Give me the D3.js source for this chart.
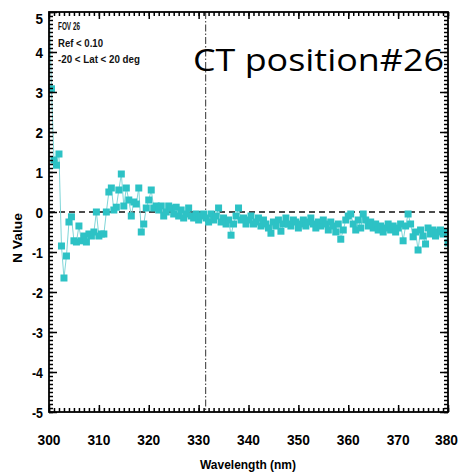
<!DOCTYPE html>
<html><head><meta charset="utf-8">
<script src="https://cdn.jsdelivr.net/npm/d3@7"></script>
<style>body{margin:0;background:#fff}svg{display:block}</style>
</head><body>
<svg id="c" width="460" height="473"></svg>
<script>
// Data: N value sampled every 0.5 nm from 300 to 380 nm
const startWavelength = 300, stepWavelength = 0.5;
const nValues = [
 5.3, 3.08, 1.3, 1.17, 1.45, -0.85, -1.65, -1.1, -0.25, -0.12,
 -0.72, -0.75, -0.35, -0.72, -0.6, -0.75, -0.55, -0.6, -0.5, 0.0,
 -0.6, -0.55, -0.55, 0.0, 0.5, 0.6, 0.05, 0.12, 0.55, 0.95,
 0.15, 0.6, 0.3, -0.1, 0.25, 0.2, 0.6, -0.5, -0.3, 0.1,
 0.3, 0.55, 0.1, 0.15, 0.05, 0.15, -0.1, 0.0, 0.15, 0.1,
 -0.05, 0.12, -0.1, 0.05, -0.15, -0.05, 0.1, -0.1, -0.15, -0.05,
 -0.2, -0.1, -0.05, -0.15, -0.25, -0.05, -0.2, -0.1, 0.1, -0.25,
 -0.15, -0.3, -0.2, -0.58, -0.3, -0.1, 0.1, -0.2, -0.15, -0.3,
 -0.2, -0.1, -0.3, -0.25, -0.15, -0.35, -0.2, -0.3, -0.4, -0.53,
 -0.25, -0.35, -0.2, -0.48, -0.3, -0.15, -0.3, -0.35, -0.2, -0.25,
 -0.4, -0.3, -0.2, -0.35, -0.25, -0.15, -0.3, -0.4, -0.25, -0.35,
 -0.2, -0.3, -0.45, -0.25, -0.35, -0.5, -0.3, -0.68, -0.45, -0.2,
 -0.1, -0.05, -0.3, -0.45, -0.2, -0.4, -0.05, -0.2, -0.35, -0.25,
 -0.4, -0.3, -0.45, -0.35, -0.5, -0.4, -0.3, -0.45, -0.35, -0.5,
 -0.4, -0.3, -0.72, -0.35, -0.05, -0.3, -0.62, -0.5, -0.95, -0.45,
 -0.6, -0.8, -0.4, -0.55, -0.45, -0.6, -0.5, -0.45, -0.55, -0.5,
 -0.77
];
const xTicks = [300, 310, 320, 330, 340, 350, 360, 370, 380];
const yTicks = [-5, -4, -3, -2, -1, 0, 1, 2, 3, 4, 5];
const refWavelength = 331.4;
const notes = ["FOV 26", "Ref < 0.10", "-20 < Lat < 20 deg"];
const noteWidths = [22, 45, 82];
const title = "CT position#26";

const data = nValues.map((v, i) => ({w: startWavelength + i * stepWavelength, v}));

const svg = d3.select("#c");
const W = 460;
const L = 49, R = 448, T = 12, B = 412;
const x = d3.scaleLinear().domain([300, 380]).range([L, R]);
const y = d3.scaleLinear().domain([-5, 5]).range([B, T]);

svg.append("defs").append("clipPath").attr("id", "clip")
  .append("rect").attr("x", L).attr("y", T).attr("width", R - L).attr("height", B - T);

const font = "'Liberation Sans', Arial, sans-serif";

// reference lines
svg.append("line").attr("x1", L).attr("x2", R).attr("y1", y(0)).attr("y2", y(0))
  .attr("stroke", "#111").attr("stroke-width", 1.4).attr("stroke-dasharray", "6,4");
svg.append("line").attr("x1", x(refWavelength)).attr("x2", x(refWavelength)).attr("y1", T).attr("y2", B)
  .attr("stroke", "#555").attr("stroke-width", 1.2).attr("stroke-dasharray", "7,2,1.5,2");

// data
const g = svg.append("g").attr("clip-path", "url(#clip)");
g.append("path").datum(data)
  .attr("d", d3.line().x(d => x(d.w)).y(d => y(d.v)))
  .attr("fill", "none").attr("stroke", "#7fd6d8").attr("stroke-width", 1);
g.selectAll("rect.m").data(data).join("rect").attr("class", "m")
  .attr("x", d => x(d.w) - 3.5).attr("y", d => y(d.v) - 3.5)
  .attr("width", 7).attr("height", 7).attr("fill", "#2dc2c5");

// axes with inward ticks
const minorX = d3.range(300, 381, 1);
const minorY = d3.range(-50, 51, 1).map(d => d / 10);
function axisTicks(axisFn, scale, ticks, size, pos) {
  return svg.append("g").attr("transform", pos)
    .call(axisFn(scale).tickValues(ticks).tickSize(size).tickFormat(""))
    .call(s => s.select(".domain").remove())
    .call(s => s.selectAll("line").attr("stroke", "#000").attr("stroke-width", 1.5));
}
axisTicks(d3.axisTop, x, minorX, 4, `translate(0,${B})`);
axisTicks(d3.axisTop, x, xTicks, 7, `translate(0,${B})`);
axisTicks(d3.axisBottom, x, minorX, 4, `translate(0,${T})`);
axisTicks(d3.axisBottom, x, xTicks, 7, `translate(0,${T})`);
axisTicks(d3.axisRight, y, minorY, 4, `translate(${L},0)`);
axisTicks(d3.axisRight, y, yTicks, 8, `translate(${L},0)`);
axisTicks(d3.axisLeft, y, minorY, 4, `translate(${R},0)`);
axisTicks(d3.axisLeft, y, yTicks, 8, `translate(${R},0)`);

// frame
svg.append("rect").attr("x", L).attr("y", T).attr("width", R - L).attr("height", B - T)
  .attr("fill", "none").attr("stroke", "#000").attr("stroke-width", 1.8);

// tick labels
const xLabW = 23;
svg.append("g").selectAll("text").data(xTicks).join("text")
  .attr("x", d => Math.min(x(d), W - 2 - xLabW / 2)).attr("y", 445).attr("text-anchor", "middle")
  .attr("font-family", font).attr("font-weight", "bold").attr("font-size", 15.5)
  .attr("textLength", xLabW).attr("lengthAdjust", "spacingAndGlyphs")
  .text(d => d);
svg.append("g").selectAll("text").data(yTicks).join("text")
  .attr("x", 43).attr("y", d => d === 5 ? y(d) + 12 : y(d) + 5.5).attr("text-anchor", "end")
  .attr("font-family", font).attr("font-weight", "bold").attr("font-size", 15.5)
  .attr("textLength", d => d < 0 ? 11 : 7.5).attr("lengthAdjust", "spacingAndGlyphs")
  .text(d => d);

// axis titles
svg.append("text").attr("x", 248).attr("y", 469).attr("text-anchor", "middle")
  .attr("font-family", font).attr("font-weight", "bold").attr("font-size", 13.5)
  .attr("textLength", 96).attr("lengthAdjust", "spacingAndGlyphs")
  .text("Wavelength (nm)");
svg.append("text").attr("transform", "translate(22,238) rotate(-90)").attr("text-anchor", "middle")
  .attr("font-family", font).attr("font-weight", "bold").attr("font-size", 13)
  .attr("textLength", 50).attr("lengthAdjust", "spacingAndGlyphs")
  .text("N Value");

// notes
svg.append("g").selectAll("text").data(notes).join("text")
  .attr("x", 58).attr("y", (d, i) => 30 + i * 16.5)
  .attr("font-family", font).attr("font-weight", "bold").attr("font-size", 11)
  .attr("textLength", (d, i) => noteWidths[i]).attr("lengthAdjust", "spacingAndGlyphs")
  .attr("fill", "#111")
  .text(d => d);

svg.append("text").attr("x", 193).attr("y", 71)
  .attr("font-family", "'Open Sans', 'Noto Sans', sans-serif").attr("font-size", 31)
  .attr("textLength", 251).attr("lengthAdjust", "spacingAndGlyphs")
  .text(title);
</script>
</body></html>
